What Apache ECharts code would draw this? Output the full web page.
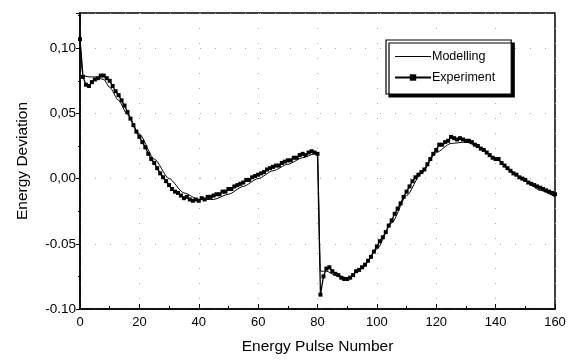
<!DOCTYPE html>
<html>
<head>
<meta charset="utf-8">
<script src="https://cdn.jsdelivr.net/npm/echarts@6/dist/echarts.min.js"></script>
<style>
html,body{margin:0;padding:0;background:#fff;}
#chart{width:569px;height:360px;}
</style>
</head>
<body>
<div id="chart"></div>
<script>
// Experiment: one value per pulse, 0..160
const experimentValues = [
  0.107, 0.078, 0.072, 0.071, 0.074, 0.076, 0.077, 0.079, 0.079, 0.077,
  0.075, 0.071, 0.067, 0.064, 0.060, 0.056, 0.051, 0.046, 0.041, 0.036,
  0.032, 0.028, 0.024, 0.019, 0.015, 0.012, 0.008, 0.004, 0.001, -0.002,
  -0.005, -0.008, -0.010, -0.011, -0.013, -0.015, -0.014, -0.016, -0.017, -0.016,
  -0.017, -0.015, -0.016, -0.014, -0.014, -0.013, -0.012, -0.012, -0.010, -0.010,
  -0.008, -0.008, -0.006, -0.005, -0.004, -0.003, -0.001, -0.001, 0.001, 0.002,
  0.003, 0.004, 0.005, 0.007, 0.008, 0.009, 0.010, 0.010, 0.012, 0.013,
  0.014, 0.014, 0.016, 0.016, 0.018, 0.019, 0.018, 0.020, 0.021, 0.020,
  0.019, -0.089, -0.075, -0.069, -0.068, -0.071, -0.073, -0.074, -0.076, -0.077,
  -0.077, -0.076, -0.074, -0.071, -0.070, -0.068, -0.066, -0.063, -0.060, -0.056,
  -0.052, -0.048, -0.045, -0.041, -0.036, -0.032, -0.027, -0.023, -0.019, -0.014,
  -0.010, -0.006, -0.002, 0.001, 0.003, 0.005, 0.007, 0.011, 0.015, 0.019,
  0.022, 0.026, 0.026, 0.028, 0.029, 0.032, 0.031, 0.030, 0.031, 0.030,
  0.029, 0.029, 0.028, 0.026, 0.025, 0.023, 0.022, 0.020, 0.018, 0.016,
  0.015, 0.015, 0.012, 0.010, 0.008, 0.006, 0.004, 0.003, 0.001, 0.000,
  -0.001, -0.003, -0.004, -0.005, -0.006, -0.007, -0.008, -0.009, -0.010, -0.011,
  -0.012
];
// Modelling: pulse numbers and values
const modelPulses = [0, 1, 3, 5, 8, 10, 13, 16, 20, 25, 30, 35, 40, 45, 50, 55, 60, 65, 70, 75, 79, 80,
  81, 83, 86, 90, 95, 100, 105, 110, 115, 120, 125, 130, 135, 140, 145, 150, 155, 160];
const modelValues = [0.107, 0.079, 0.078, 0.078, 0.076, 0.070, 0.060, 0.049, 0.034, 0.015, 0.000, -0.011, -0.016, -0.016, -0.012, -0.006, 0.000, 0.006, 0.011, 0.016, 0.019, 0.019,
  -0.071, -0.071, -0.074, -0.076, -0.069, -0.054, -0.034, -0.013, 0.004, 0.020, 0.027, 0.028, 0.024, 0.015, 0.006, -0.002, -0.009, -0.014];
const yTickLabels = {"0.1": "0,10", "0.05": "0,05", "0": "0,00", "-0.05": "-0.05", "-0.1": "-0.10"};
const xTickLabels = ["0", "20", "40", "60", "80", "100", "120", "140", "160"];
const seriesNames = ["Modelling", "Experiment"];

const expData = experimentValues.map((v, i) => [i, v]);
const modData = modelPulses.map((p, i) => [p, modelValues[i]]);

const chart = echarts.init(document.getElementById('chart'), null, {renderer: 'canvas'});
const font = 'Liberation Sans, Arial, sans-serif';
chart.setOption({
  animation: false,
  backgroundColor: '#fff',
  grid: {left: 80, right: 14, top: 13, bottom: 47, show: true, borderColor: '#000', borderWidth: 1.5, backgroundColor: 'transparent'},
  legend: {
    orient: 'vertical', left: 386, top: 40,
    data: [
      {name: seriesNames[0], icon: 'path://M0,5L40,5L40,6L0,6Z'},
      {name: seriesNames[1]}
    ],
    itemWidth: 36, itemHeight: 8, itemGap: 8,
    padding: [10, 16, 10, 8],
    borderColor: '#000', borderWidth: 1.2, borderRadius: 0,
    backgroundColor: '#fff',
    shadowColor: '#000', shadowOffsetX: 3, shadowOffsetY: 3, shadowBlur: 0,
    textStyle: {fontFamily: font, fontSize: 12.5, color: '#000', padding: [0, 0, 0, -4]}
  },
  xAxis: {
    type: 'value', min: 0, max: 160, interval: 20,
    name: 'Energy Pulse Number', nameLocation: 'middle', nameGap: 30,
    nameTextStyle: {fontFamily: font, fontSize: 15.5, color: '#000'},
    axisLine: {onZero: false, lineStyle: {color: '#000', width: 1.5}},
    axisTick: {inside: true, length: 5, lineStyle: {color: '#000'}},
    minorTick: {show: true, splitNumber: 2, length: 3, lineStyle: {color: '#000'}},
    axisLabel: {fontFamily: font, fontSize: 13, color: '#000', margin: 7,
      formatter: v => xTickLabels.includes(String(v)) ? String(v) : ''},
    splitLine: {show: true, lineStyle: {color: '#aaa', type: [1, 14], width: 1}}
  },
  yAxis: {
    type: 'value', min: -0.1, max: 0.127, interval: 0.05,
    name: 'Energy Deviation', nameLocation: 'middle', nameGap: 49,
    nameTextStyle: {fontFamily: font, fontSize: 15.5, color: '#000'},
    axisLine: {onZero: false, lineStyle: {color: '#000', width: 1.5}},
    axisTick: {inside: false, length: 4, lineStyle: {color: '#000'}},
    minorTick: {show: true, splitNumber: 2, length: 2, lineStyle: {color: '#000'}},
    axisLabel: {fontFamily: font, fontSize: 13.5, color: '#000', margin: 4, showMaxLabel: false,
      formatter: v => {
        const k = String(Math.round(v * 100) / 100);
        return yTickLabels[k] !== undefined ? yTickLabels[k] : '';
      }},
    splitLine: {show: true, lineStyle: {color: '#aaa', type: [1, 14], width: 1}}
  },
  series: [
    {
      name: seriesNames[0], type: 'line', data: modData,
      smooth: 0.25, smoothMonotone: 'x', symbol: 'none',
      lineStyle: {color: '#000', width: 1}, itemStyle: {color: '#000'}, z: 3
    },
    {
      name: seriesNames[1], type: 'line', data: expData,
      symbol: 'rect', symbolSize: 4, showAllSymbol: true,
      lineStyle: {color: '#000', width: 1.3}, itemStyle: {color: '#000'}, z: 2
    }
  ]
});
</script>
</body>
</html>
